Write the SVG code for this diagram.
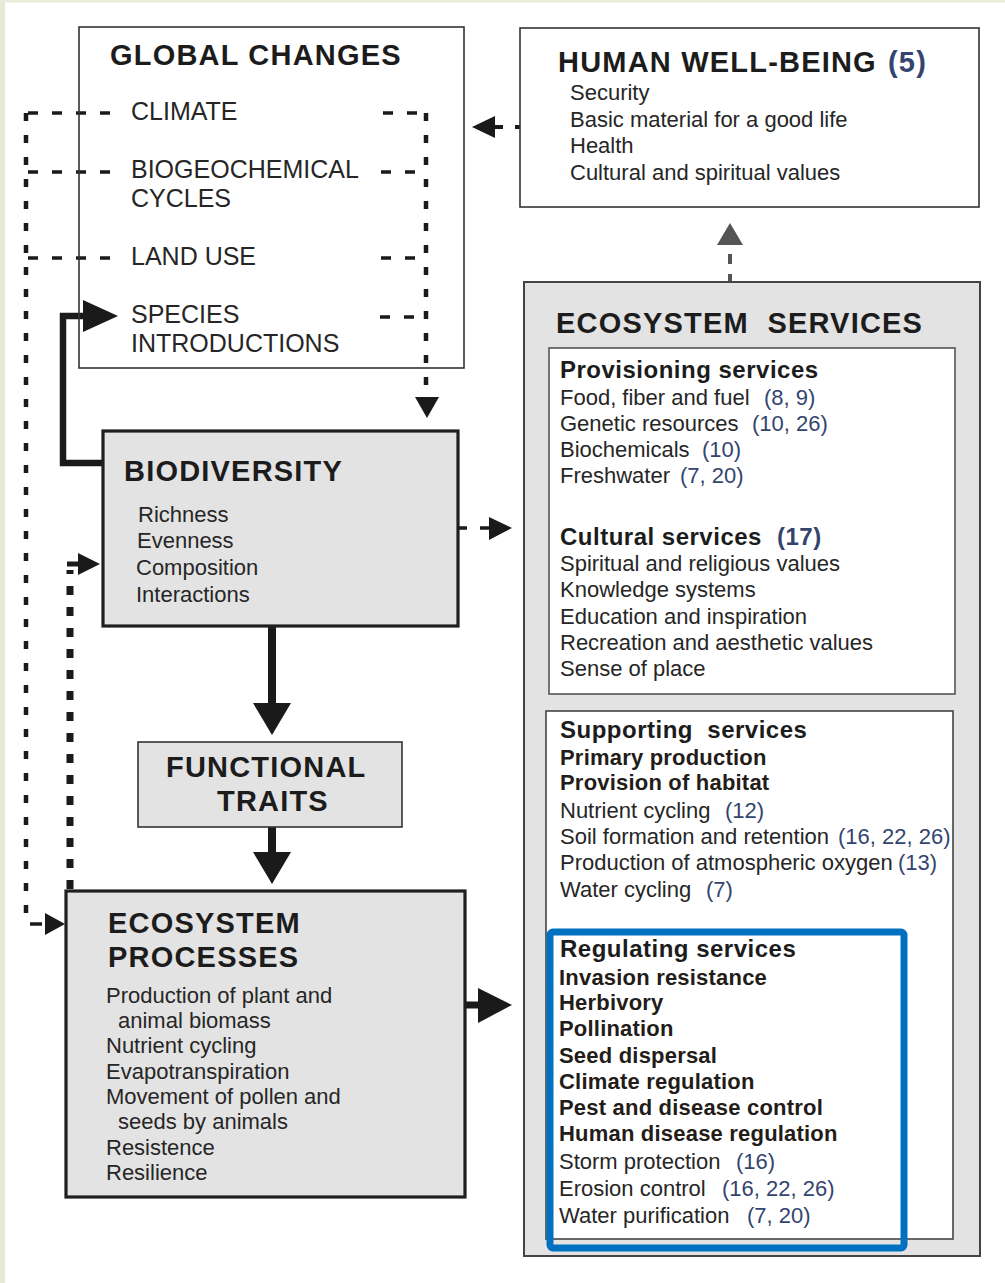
<svg xmlns="http://www.w3.org/2000/svg" width="1005" height="1283" viewBox="0 0 1005 1283">
<defs>
<style>
text{font-family:"Liberation Sans",Arial,Helvetica,sans-serif;fill:#262626}
.t{font-size:29px;font-weight:bold;letter-spacing:1.2px;fill:#1c1c1c}
.g{font-size:25px}
.i{font-size:22px}
.h{font-size:24px;font-weight:bold;letter-spacing:0.5px;fill:#1c1c1c}
.b{font-size:22px;font-weight:bold;letter-spacing:0.2px;fill:#231c18}
.n{fill:#33456f}
.pre{white-space:pre}
.thin{stroke:#333;stroke-width:1.6}
.thick{stroke:#1f1f1f;stroke-width:3.2}
.grey{fill:#e3e3e3}
.dash{fill:none;stroke:#1a1a1a;stroke-width:3.5;stroke-dasharray:10 14}
.dashv{fill:none;stroke:#1a1a1a;stroke-width:4.5;stroke-dasharray:8 14}
.ah{fill:#1a1a1a}
</style>
</defs>
<rect width="1005" height="1283" fill="#ffffff"/>
<rect x="0" y="0" width="5" height="1283" fill="#e4ead3"/>
<rect x="0" y="0" width="1005" height="2.5" fill="#e8eddb"/>

<g id="connectors">
  <!-- left outer dashed loop from global changes to ecosystem processes -->
  <path class="dash" d="M110,113 H26"/>
  <path class="dash" d="M110,172 H26"/>
  <path class="dash" d="M110,258 H26"/>
  <path class="dashv" d="M26,113 V920"/>
  <path d="M30,924 H42" stroke="#1a1a1a" stroke-width="3.5" fill="none"/>
  <polygon class="ah" points="45,913 65,924 45,935"/>
  <!-- right dashed to biodiversity -->
  <path class="dash" d="M383,113 H426"/>
  <path class="dash" d="M381,172 H426"/>
  <path class="dash" d="M381,258 H426"/>
  <path class="dash" d="M380,317 H426"/>
  <path class="dashv" d="M426,113 V398"/>
  <polygon class="ah" points="415,397 439,397 427,418"/>
  <!-- biodiversity to species introductions -->
  <path d="M106,463 H63 V316 H86" fill="none" stroke="#1a1a1a" stroke-width="6.5"/>
  <polygon class="ah" points="83,300 118,316 83,332"/>
  <!-- ecosystem processes feedback to biodiversity -->
  <path d="M70,889 V570" fill="none" stroke="#1a1a1a" stroke-width="7" stroke-dasharray="9 12"/>
  <path d="M67,564 H80" fill="none" stroke="#1a1a1a" stroke-width="5"/>
  <polygon class="ah" points="78,553 100,564 78,575"/>
  <!-- biodiversity to functional traits -->
  <path d="M272,627 V705" stroke="#1a1a1a" stroke-width="8" fill="none"/>
  <polygon class="ah" points="253,703 291,703 272,735"/>
  <!-- functional traits to ecosystem processes -->
  <path d="M272,827 V854" stroke="#1a1a1a" stroke-width="8" fill="none"/>
  <polygon class="ah" points="253,852 291,852 272,884"/>
  <!-- biodiversity to ecosystem services -->
  <path d="M458,528 H467 M480,528 H491" stroke="#1a1a1a" stroke-width="3.5" fill="none"/>
  <polygon class="ah" points="489,517 512,528 489,540"/>
  <!-- ecosystem processes to ecosystem services -->
  <path d="M465,1005 H480" stroke="#1a1a1a" stroke-width="7" fill="none"/>
  <polygon class="ah" points="478,988 512,1005 478,1023"/>
  <!-- ecosystem services to human well-being -->
  <path d="M730,282 V274 M730,264 V254" stroke="#555" stroke-width="4" fill="none"/>
  <polygon points="717,245 743,245 730,223" fill="#555"/>
  <!-- human well-being to global changes -->
  <path d="M494,127 H503 M515,127 H521" stroke="#1a1a1a" stroke-width="4" fill="none"/>
  <polygon class="ah" points="495,116 472,127 495,138"/>
</g>

<g id="global-changes">
  <rect x="79" y="27" width="385" height="341" fill="none" class="thin"/>
  <text class="t" x="110" y="65">GLOBAL CHANGES</text>
  <text class="g" x="131" y="120">CLIMATE</text>
  <text class="g" x="131" y="178">BIOGEOCHEMICAL</text>
  <text class="g" x="131" y="207">CYCLES</text>
  <text class="g" x="131" y="265">LAND USE</text>
  <text class="g" x="131" y="323">SPECIES</text>
  <text class="g" x="131" y="352">INTRODUCTIONS</text>
</g>

<g id="human-well-being">
  <rect x="520" y="28" width="459" height="179" fill="#fff" class="thin"/>
  <text class="t" x="558" y="72">HUMAN WELL-BEING <tspan class="n" x="888">(5)</tspan></text>
  <text class="i" x="570" y="100">Security</text>
  <text class="i" x="570" y="127">Basic material for a good life</text>
  <text class="i" x="570" y="153">Health</text>
  <text class="i" x="570" y="180">Cultural and spiritual values</text>
</g>

<g id="biodiversity">
  <rect x="103" y="431" width="355" height="195" class="grey thick"/>
  <text class="t" x="124" y="481">BIODIVERSITY</text>
  <text class="i" x="138" y="522">Richness</text>
  <text class="i" x="137" y="548">Evenness</text>
  <text class="i" x="136" y="575">Composition</text>
  <text class="i" x="136" y="602">Interactions</text>
</g>

<g id="functional-traits">
  <rect x="138" y="742" width="264" height="85" class="grey thin"/>
  <text class="t" x="166" y="777">FUNCTIONAL</text>
  <text class="t" x="217" y="811">TRAITS</text>
</g>

<g id="ecosystem-processes">
  <rect x="66" y="891" width="399" height="306" class="grey thick"/>
  <text class="t" x="108" y="933">ECOSYSTEM</text>
  <text class="t" x="108" y="967">PROCESSES</text>
  <text class="i" x="106" y="1003">Production of plant and</text>
  <text class="i" x="118" y="1028">animal biomass</text>
  <text class="i" x="106" y="1053">Nutrient cycling</text>
  <text class="i" x="106" y="1079">Evapotranspiration</text>
  <text class="i" x="106" y="1104">Movement of pollen and</text>
  <text class="i" x="118" y="1129">seeds by animals</text>
  <text class="i" x="106" y="1155">Resistence</text>
  <text class="i" x="106" y="1180">Resilience</text>
</g>

<g id="ecosystem-services">
  <rect x="524" y="282" width="456" height="974" fill="#e3e3e3" stroke="#444" stroke-width="2"/>
  <text class="t pre" x="556" y="333">ECOSYSTEM  SERVICES</text>
</g>

<g id="provisioning-cultural-services">
  <rect x="549" y="348" width="406" height="346" fill="#fff" stroke="#555" stroke-width="1.6"/>
  <text class="h" x="560" y="378">Provisioning services</text>
  <text class="i" x="560" y="405">Food, fiber and fuel<tspan class="n" x="764">(8, 9)</tspan></text>
  <text class="i" x="560" y="431">Genetic resources<tspan class="n" x="752">(10, 26)</tspan></text>
  <text class="i" x="560" y="457">Biochemicals<tspan class="n" x="702">(10)</tspan></text>
  <text class="i" x="560" y="483">Freshwater<tspan class="n" x="680">(7, 20)</tspan></text>
  <text class="h" x="560" y="545">Cultural services<tspan class="n" x="777">(17)</tspan></text>
  <text class="i" x="560" y="571">Spiritual and religious values</text>
  <text class="i" x="560" y="597">Knowledge systems</text>
  <text class="i" x="560" y="624">Education and inspiration</text>
  <text class="i" x="560" y="650">Recreation and aesthetic values</text>
  <text class="i" x="560" y="676">Sense of place</text>
</g>

<g id="supporting-services">
  <rect x="546" y="711" width="407" height="528" fill="#fff" stroke="#444" stroke-width="1.6"/>
  <text class="h pre" x="560" y="738">Supporting  services</text>
  <text class="b" x="560" y="765">Primary production</text>
  <text class="b" x="560" y="790">Provision of habitat</text>
  <text class="i" x="560" y="818">Nutrient cycling<tspan class="n" x="725">(12)</tspan></text>
  <text class="i" x="560" y="844">Soil formation and retention<tspan class="n" x="838">(16, 22, 26)</tspan></text>
  <text class="i" x="560" y="870">Production of atmospheric oxygen<tspan class="n" x="898">(13)</tspan></text>
  <text class="i" x="560" y="897">Water cycling<tspan class="n" x="706">(7)</tspan></text>
</g>

<g id="regulating-services">
  <rect x="550" y="932" width="354" height="316" rx="3" fill="none" stroke="#0070c0" stroke-width="7"/>
  <text class="h" x="560" y="957">Regulating services</text>
  <text class="b" x="559" y="985">Invasion resistance</text>
  <text class="b" x="559" y="1010">Herbivory</text>
  <text class="b" x="559" y="1036">Pollination</text>
  <text class="b" x="559" y="1063">Seed dispersal</text>
  <text class="b" x="559" y="1089">Climate regulation</text>
  <text class="b" x="559" y="1115">Pest and disease control</text>
  <text class="b" x="559" y="1141">Human disease regulation</text>
  <text class="i" x="559" y="1169">Storm protection<tspan class="n" x="736">(16)</tspan></text>
  <text class="i" x="559" y="1196">Erosion control<tspan class="n" x="722">(16, 22, 26)</tspan></text>
  <text class="i" x="559" y="1223">Water purification<tspan class="n" x="747">(7, 20)</tspan></text>
</g>
</svg>
